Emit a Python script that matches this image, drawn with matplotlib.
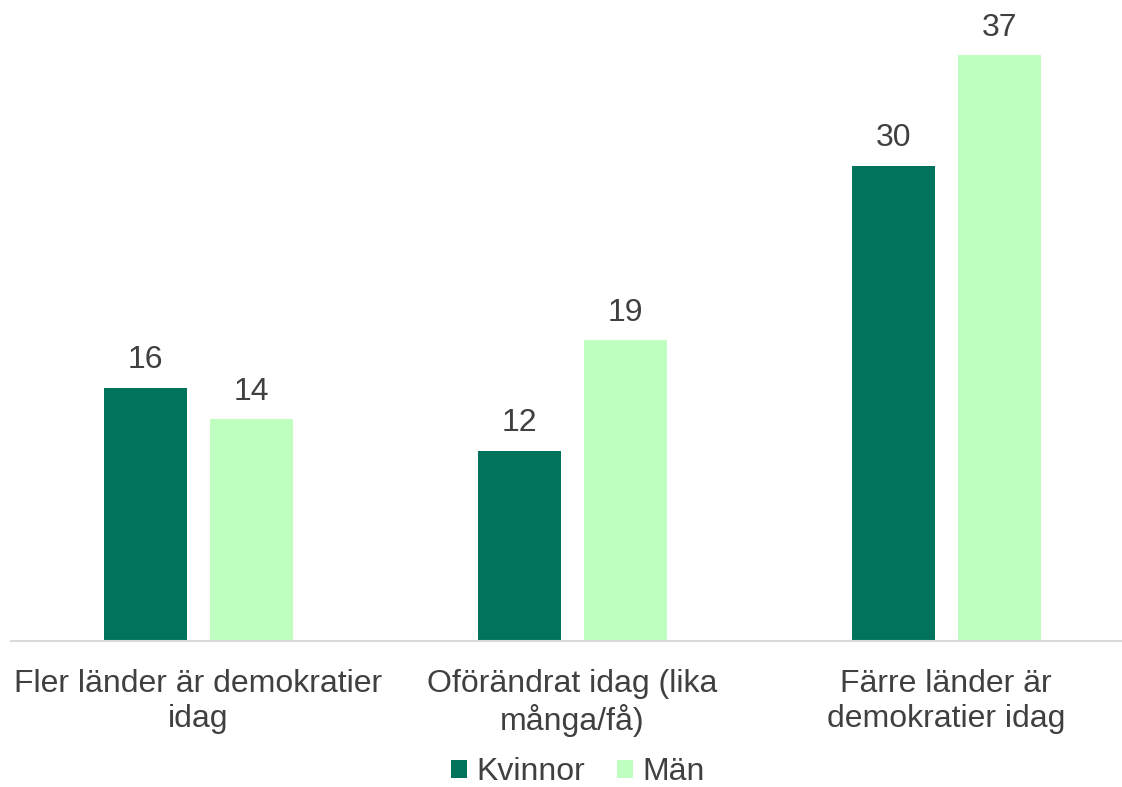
import matplotlib.pyplot as plt
import numpy as np

plt.rcParams['font.family'] = ['Liberation Sans', 'DejaVu Sans']

categories = ['Fler länder är demokratier\nidag',
              'Oförändrat idag (lika\nmånga/få)',
              'Färre länder är\ndemokratier idag']
kvinnor = [16, 12, 30]
man = [14, 19, 37]
series_names = ['Kvinnor', 'Män']
colors = ['#00735C', '#BFFFBF']
text_color = '#404040'

fig = plt.figure(figsize=(11.22, 7.87), dpi=100)
ax = fig.add_axes([11 / 1122, 1 - 641 / 787, 1111 / 1122, 633.5 / 787])

x = np.arange(len(categories))
w = 0.222
off = 0.1417
b1 = ax.bar(x - off, kvinnor, w, color=colors[0], label=series_names[0])
b2 = ax.bar(x + off, man, w, color=colors[1], label=series_names[1])

for bars in (b1, b2):
    ax.bar_label(bars, padding=9, fontsize=23, color=text_color)

ax.set_xlim(-0.5, 2.47)
ax.set_ylim(0, 40)
ax.set_yticks([])
ax.set_xticks(x)
ax.set_xticklabels(categories, fontsize=23, color=text_color, linespacing=1.22)
ax.tick_params(axis='x', length=0, pad=20)
for s in ['top', 'right', 'left']:
    ax.spines[s].set_visible(False)
ax.spines['bottom'].set_color('#D9D9D9')
ax.spines['bottom'].set_linewidth(1.5)

leg = fig.legend(loc='lower center', bbox_to_anchor=(0.515, -0.037), ncol=2,
                 frameon=False, fontsize=23, handlelength=0.5, handleheight=0.5,
                 handletextpad=0.3, columnspacing=1.0)
for t in leg.get_texts():
    t.set_color(text_color)

fig.savefig('out.png', dpi=100)
